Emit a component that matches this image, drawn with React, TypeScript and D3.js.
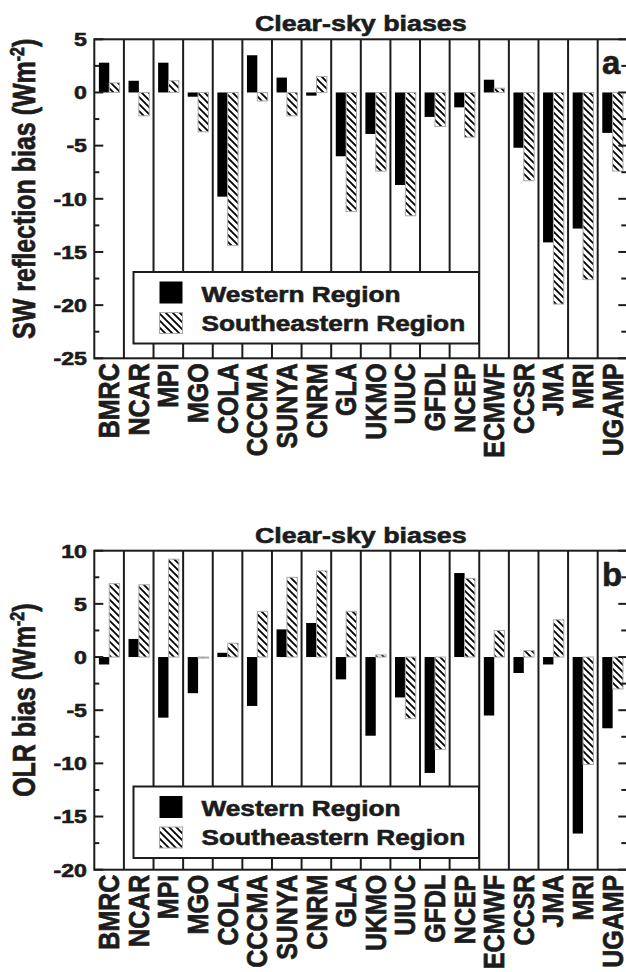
import React from 'react';
import * as d3 from 'd3';

// models along the x axis
const models = ['BMRC', 'NCAR', 'MPI', 'MGO', 'COLA', 'CCCMA', 'SUNYA', 'CNRM', 'GLA', 'UKMO', 'UIUC', 'GFDL', 'NCEP', 'ECMWF', 'CCSR', 'JMA', 'MRI', 'UGAMP'];

// panel a: SW reflection bias (Wm-2)
const swWestern = [2.8, 1.1, 2.8, -0.4, -9.8, 3.5, 1.4, -0.3, -6.0, -3.9, -8.7, -2.3, -1.4, 1.2, -5.2, -14.1, -12.8, -3.8];
const swSoutheastern = [0.9, -2.2, 1.1, -3.7, -14.4, -0.8, -2.2, 1.5, -11.2, -7.4, -11.6, -3.2, -4.2, 0.4, -8.3, -19.9, -17.6, -7.4];
const swTicks = [5, 0, -5, -10, -15, -20, -25];

// panel b: OLR bias (Wm-2)
const olrWestern = [-0.7, 1.7, -5.7, -3.4, 0.4, -4.6, 2.6, 3.2, -2.1, -7.4, -3.8, -10.9, 7.9, -5.5, -1.5, -0.7, -16.6, -6.7];
const olrSoutheastern = [6.9, 6.8, 9.2, -0.1, 1.3, 4.3, 7.5, 8.1, 4.3, 0.2, -5.8, -8.7, 7.4, 2.5, 0.6, 3.5, -10.1, -3.0];
const olrTicks = [10, 5, 0, -5, -10, -15, -20];

const seriesNames = ['Western Region', 'Southeastern Region'];
const title = 'Clear-sky biases';

const W = 626;
const H = 972;
const plotLeft = 94.3;
const plotRight = 627.3;
const plotH = 319;
const SX = 1.22; // the original figure is stretched sideways
const FONT = '"Liberation Sans", Arial, Helvetica, sans-serif';
const INK = '#1c1c1c';
// the printed text is heavier than a plain bold face
const heavy = { fill: INK, stroke: INK, strokeWidth: 0.6, fontWeight: 'bold' as const };

type PanelProps = {
  top: number;
  western: number[];
  southeastern: number[];
  ticks: number[];
  yLabel: string;
  letter: string;
  legendTop: number;
};

const Panel = ({ top, western, southeastern, ticks, yLabel, letter, legendTop }: PanelProps) => {
  const x = d3.scaleBand<string>().domain(models).range([plotLeft, plotRight]).padding(0);
  const y = d3.scaleLinear()
    .domain([d3.min(ticks) as number, d3.max(ticks) as number])
    .range([top + plotH, top]);
  const bw = x.bandwidth();
  const off = bw * 0.155;
  const barW = bw * 0.35;
  const minor = ticks.slice(1).map(t => t + 2.5);
  const bottom = top + plotH;
  const midX = (plotLeft + plotRight) / 2;

  const bar = (v: number) => ({ y: Math.min(y(v), y(0)), h: Math.abs(y(v) - y(0)) });

  return (
    <g>
      {/* title */}
      <text transform={`translate(${midX},${top - 8}) scale(${SX},1)`} textAnchor="middle"
        fontSize={22} {...heavy}>{title}</text>

      {/* bars */}
      {models.map((m, i) => {
        const bw1 = bar(western[i]);
        const bs = bar(southeastern[i]);
        const x0 = x(m) as number;
        return (
          <g key={m}>
            <rect x={x0 + off} y={bw1.y} width={barW} height={Math.max(bw1.h, 1)} fill="#000" />
            <rect x={x0 + off + barW} y={bs.y} width={barW} height={Math.max(bs.h, 1)}
              fill="url(#hatch)" stroke="#aaa" strokeWidth={1} />
          </g>
        );
      })}

      {/* category separators */}
      {models.slice(1).map(m => (
        <line key={m} x1={x(m)} x2={x(m)} y1={top} y2={bottom} stroke={INK} strokeWidth={2} />
      ))}

      {/* frame */}
      <rect x={plotLeft} y={top} width={plotRight - plotLeft} height={plotH} fill="none" stroke={INK} strokeWidth={2} />

      {/* ticks, inward on both sides */}
      {ticks.map(t => (
        <g key={t}>
          <line x1={plotLeft} x2={plotLeft + 9} y1={y(t)} y2={y(t)} stroke={INK} strokeWidth={2} />
          <line x1={plotRight} x2={plotRight - 9} y1={y(t)} y2={y(t)} stroke={INK} strokeWidth={2} />
          <text transform={`translate(${87},${y(t)}) scale(${SX},1)`} textAnchor="end" dy="0.36em"
            fontSize={19} {...heavy}>{t}</text>
        </g>
      ))}
      {minor.map(t => (
        <g key={t}>
          <line x1={plotLeft} x2={plotLeft + 5} y1={y(t)} y2={y(t)} stroke={INK} strokeWidth={2} />
          <line x1={plotRight} x2={plotRight - 6} y1={y(t)} y2={y(t)} stroke={INK} strokeWidth={2} />
        </g>
      ))}

      {/* category labels */}
      {models.map(m => (
        <text key={m} transform={`translate(${(x(m) as number) + bw / 2 - 0.5},${bottom + 5}) scale(${SX - 0.04},1) rotate(-90)`}
          textAnchor="end" dy="0.36em" fontSize={25} {...heavy}>{m}</text>
      ))}

      {/* y label */}
      <text transform={`translate(35,${top + plotH / 2 - 10}) scale(${SX},1) rotate(-90)`} textAnchor="middle"
        fontSize={25} {...heavy}>
        {yLabel} (Wm<tspan fontSize={16} dy={-9}>-2</tspan><tspan dy={9}>)</tspan>
      </text>

      {/* panel letter */}
      <text x={602} y={top + 35} fontSize={33} {...heavy}>{letter}</text>

      {/* legend */}
      <g>
        <rect x={133.5} y={legendTop} width={345.5} height={71.5} fill="#fff" stroke={INK} strokeWidth={2} />
        <rect x={159.5} y={legendTop + 9.5} width={23} height={22} fill="#000" />
        <rect x={159.5} y={legendTop + 40.5} width={23} height={21} fill="url(#hatch)" stroke="#aaa" strokeWidth={1} />
        <text transform={`translate(201.5,${legendTop + 29.5}) scale(${SX},1)`} fontSize={21.5} {...heavy}>{seriesNames[0]}</text>
        <text transform={`translate(201.5,${legendTop + 58.5}) scale(${SX},1)`} fontSize={21.5} {...heavy}>{seriesNames[1]}</text>
      </g>
    </g>
  );
};

const App = () => (
  <svg width={W} height={H} viewBox={`0 0 ${W} ${H}`}
    style={{ position: 'absolute', left: 0, top: 0, background: '#fff', fontFamily: FONT }}>
    <defs>
      <pattern id="hatch" patternUnits="userSpaceOnUse" width={7} height={7}>
        <rect width={7} height={7} fill="#fff" />
        <path d="M0,0 L7,7 M-1,6 L1,8 M6,-1 L8,1" stroke="#000" strokeWidth={1.8} />
      </pattern>
    </defs>
    <rect width={W} height={H} fill="#fff" />
    <Panel top={39.3} western={swWestern} southeastern={swSoutheastern} ticks={swTicks}
      yLabel="SW reflection bias" letter="a" legendTop={272} />
    <Panel top={550.7} western={olrWestern} southeastern={olrSoutheastern} ticks={olrTicks}
      yLabel="OLR bias" letter="b" legendTop={786.5} />
  </svg>
);

export default App;
